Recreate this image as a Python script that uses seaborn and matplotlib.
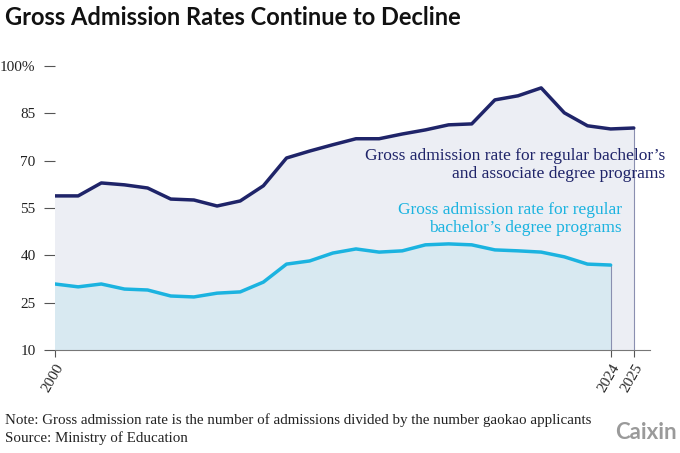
import numpy as np
import pandas as pd
import matplotlib.pyplot as plt
import seaborn as sns

years = list(range(2000, 2026))
overall = [58.8, 58.8, 62.9, 62.3, 61.3, 57.8, 57.5, 55.6, 57.2, 62.0, 70.8, 73.0, 75.0,
           76.9, 76.9, 78.4, 79.7, 81.3, 81.6, 89.2, 90.5, 93.0, 85.1, 81.0, 80.0, 80.3]
bachelor = [30.9, 30.0, 30.9, 29.3, 29.0, 27.1, 26.8, 28.0, 28.4, 31.5, 37.2, 38.2, 40.7,
            42.0, 41.0, 41.4, 43.3, 43.6, 43.3, 41.7, 41.4, 41.0, 39.5, 37.2, 36.9]
yticks = [10, 25, 40, 55, 70, 85, 100]
ytick_labels = ["10", "25", "40", "55", "70", "85", "100%"]
xticks = [2000, 2024, 2025]

df = pd.DataFrame({"year": years, "overall": overall})
db = pd.DataFrame({"year": years[:len(bachelor)], "bachelor": bachelor})

sns.set_theme(style="white")
plt.rcParams["font.family"] = ["Liberation Serif", "DejaVu Serif"]

dark = "#1f2469"
light = "#1bb3e0"

fig = plt.figure(figsize=(6.8, 4.53), dpi=100)
ax = fig.add_axes([55 / 680, 1 - 350 / 453, (650 - 55) / 680, (350 - 50) / 453])

ax.fill_between(df["year"], 10, df["overall"], color="#eceef4", zorder=1)
ax.fill_between(db["year"], 10, db["bachelor"], color="#d8e9f1", zorder=2)
sns.lineplot(data=df, x="year", y="overall", color=dark, lw=2.5, ax=ax, zorder=4)
sns.lineplot(data=db, x="year", y="bachelor", color=light, lw=2.5, ax=ax, zorder=4)
ax.vlines(2024, 10, bachelor[-1], color="#8a8fb0", lw=0.8, zorder=3)
ax.vlines(2025, 10, overall[-1], color="#8a8fb0", lw=0.8, zorder=3)

ax.set_xlim(2000, 2025.7)
ax.set_ylim(10, 105)
ax.set_yticks(yticks)
ax.set_yticklabels(ytick_labels, fontsize=11, color="#222222")
ax.set_xticks(xticks)
ax.set_xticklabels([str(x) for x in xticks], rotation=60, fontsize=11, ha="right",
                   rotation_mode="anchor")
ax.tick_params(axis="y", length=8, width=0.8, color="#555555", pad=6, left=True)
ax.tick_params(axis="x", length=5, width=0.8, color="#555555", bottom=True, pad=3)
for s in ["top", "right", "left"]:
    ax.spines[s].set_visible(False)
ax.spines["bottom"].set_color("#777777")
ax.spines["bottom"].set_linewidth(0.8)
ax.set_xlabel("")
ax.set_ylabel("")

fig.text(665 / 680, 1 - 165 / 453, "Gross admission rate for regular bachelor’s\nand associate degree programs",
         color=dark, fontsize=12.5, ha="right", va="center", linespacing=1.25)
fig.text(622 / 680, 1 - 219 / 453, "Gross admission rate for regular\nbachelor’s degree programs",
         color=light, fontsize=12.5, ha="right", va="center", linespacing=1.25)

fig.text(0.008, 0.962, "Gross Admission Rates Continue to Decline", fontsize=17,
         fontweight="bold", family=["Lato", "DejaVu Sans"], color="#111111", va="center")
fig.text(0.008, 0.073, "Note: Gross admission rate is the number of admissions divided by the number gaokao applicants",
         fontsize=10.8, color="#222222", va="center")
fig.text(0.008, 0.033, "Source: Ministry of Education", fontsize=10.8, color="#222222", va="center")
fig.text(0.995, 0.045, "Caixin", fontsize=16, fontweight="bold", family=["Lato", "DejaVu Sans"],
         color="#9a9a9a", ha="right", va="center")

fig.savefig("out.png", dpi=100)
